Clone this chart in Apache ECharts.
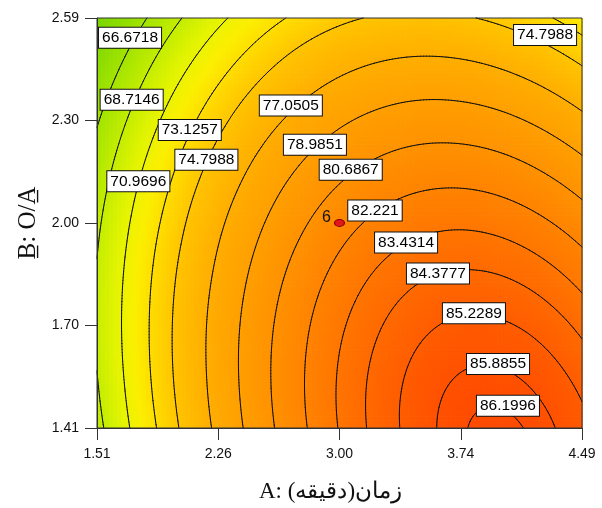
<!DOCTYPE html>
<html><head><meta charset="utf-8">
<script src="https://cdn.jsdelivr.net/npm/echarts@6/dist/echarts.min.js"></script>
<style>html,body{margin:0;padding:0;background:#fff}#c{width:602px;height:508px}</style>
</head><body><div id="c"></div>
<script>
// ---- axis ticks ----
const xTickValues = [1.51, 2.255, 3.0, 3.745, 4.49];
const xTickLabels = ['1.51', '2.26', '3.00', '3.74', '4.49'];
const yTickValues = [1.41, 1.705, 2.0, 2.295, 2.59];
const yTickLabels = ['1.41', '1.70', '2.00', '2.30', '2.59'];
const xAxisTitle = 'A: زمان(دقیقه)\u200F';
const yAxisTitle = 'B\u0332: O/A\u0332';

// ---- response grid, rows = B values, columns = A values ----
const gridA = [1.51, 1.7583, 2.0067, 2.255, 2.5033, 2.7517, 3.0, 3.2483, 3.4967, 3.745, 3.9933, 4.2417, 4.49];
const gridB = [1.41, 1.5575, 1.705, 1.8525, 2.0, 2.1475, 2.295, 2.4425, 2.59];
const rowB141 = [68.10, 71.60, 74.72, 77.48, 79.85, 81.86, 83.49, 84.75, 85.63, 86.15, 86.28, 86.05, 85.44];
const rowB156 = [68.67, 72.08, 75.12, 77.78, 80.07, 81.99, 83.53, 84.70, 85.50, 85.92, 85.97, 85.65, 84.95];
const rowB171 = [68.91, 72.23, 75.18, 77.76, 79.96, 81.79, 83.24, 84.32, 85.03, 85.37, 85.33, 84.92, 84.13];
const rowB185 = [68.81, 72.05, 74.91, 77.39, 79.51, 81.25, 82.61, 83.61, 84.23, 84.47, 84.35, 83.85, 82.97];
const rowB200 = [68.38, 71.53, 74.30, 76.70, 78.72, 80.37, 81.65, 82.56, 83.09, 83.25, 83.03, 82.44, 81.48];
const rowB215 = [67.61, 70.67, 73.35, 75.66, 77.60, 79.16, 80.35, 81.17, 81.61, 81.68, 81.38, 80.70, 79.65];
const rowB230 = [66.50, 69.47, 72.07, 74.29, 76.14, 77.61, 78.71, 79.44, 79.80, 79.78, 79.39, 78.62, 77.48];
const rowB244 = [65.06, 67.94, 70.45, 72.58, 74.34, 75.73, 76.74, 77.38, 77.65, 77.54, 77.06, 76.21, 74.98];
const rowB259 = [63.28, 66.07, 68.49, 70.54, 72.21, 73.51, 74.43, 74.98, 75.16, 74.97, 74.40, 73.46, 72.14];
const gridValues = [rowB141, rowB156, rowB171, rowB185, rowB200, rowB215, rowB230, rowB244, rowB259];

// ---- contour levels and label positions ----
const contourLevels = [66.6718, 68.7146, 70.9696, 73.1257, 74.7988, 77.0505, 78.9851, 80.6867, 82.221, 83.4314, 84.3777, 85.2289, 85.8855, 86.1996];
const contourLabelA = [1.713, 1.723, 1.764, 2.080, 2.182, 2.701, 2.849, 3.069, 3.218, 3.409, 3.605, 3.826, 3.974, 4.035, 4.263];
const contourLabelB = [2.533, 2.355, 2.120, 2.268, 2.182, 2.338, 2.225, 2.153, 2.036, 1.944, 1.855, 1.740, 1.594, 1.474, 2.541];
const contourLabelLevel = [66.6718, 68.7146, 70.9696, 73.1257, 74.7988, 77.0505, 78.9851, 80.6867, 82.221, 83.4314, 84.3777, 85.2289, 85.8855, 86.1996, 74.7988];

// ---- design point ----
const designPointA = [3.00];
const designPointB = [2.00];
const designPointLabel = ['6'];

// ---- styling ----
const SANS = "'Liberation Sans Narrow','Arial Narrow','Liberation Sans',Arial,sans-serif";
const SERIF = "'Liberation Serif','Times New Roman','DejaVu Serif',serif";
const colorStops = [[63,'#74d400'],[65,'#8cdc00'],[67,'#a8e500'],[69,'#c8ee00'],[70.5,'#e4f400'],[72,'#fbef00'],[73.5,'#ffd800'],[75,'#ffc200'],[77,'#ffae00'],[79,'#ff9f00'],[81,'#ff8f00'],[83,'#ff7b00'],[84.5,'#ff6800'],[85.5,'#ff5800'],[86.3,'#ff4a00']];
const SUB = 4;
const LSUB = 3;

function hexToRgb(h){return [parseInt(h.slice(1,3),16),parseInt(h.slice(3,5),16),parseInt(h.slice(5,7),16)];}
const stopRgb = colorStops.map(s => [s[0], hexToRgb(s[1])]);
function colorAt(v){
  if (v <= stopRgb[0][0]) { const c = stopRgb[0][1]; return 'rgb('+c[0]+','+c[1]+','+c[2]+')'; }
  for (let k = 1; k < stopRgb.length; k++) {
    if (v <= stopRgb[k][0]) {
      const t = (v - stopRgb[k-1][0]) / (stopRgb[k][0] - stopRgb[k-1][0]);
      const a = stopRgb[k-1][1], b = stopRgb[k][1];
      return 'rgb(' + Math.round(a[0]+(b[0]-a[0])*t) + ',' + Math.round(a[1]+(b[1]-a[1])*t) + ',' + Math.round(a[2]+(b[2]-a[2])*t) + ')';
    }
  }
  const c = stopRgb[stopRgb.length-1][1]; return 'rgb('+c[0]+','+c[1]+','+c[2]+')';
}
function labelFor(v, vals, labs){
  for (let k = 0; k < vals.length; k++) if (Math.abs(v - vals[k]) < 1e-6) return labs[k];
  return '';
}

// grid node access (quadratic extension past the border) and Catmull-Rom weights
function nodeVal(i, j){
  const nA = gridA.length, nB = gridB.length;
  if (i < 0) return 3*nodeVal(0,j) - 3*nodeVal(1,j) + nodeVal(2,j);
  if (i > nA-1) return 3*nodeVal(nA-1,j) - 3*nodeVal(nA-2,j) + nodeVal(nA-3,j);
  if (j < 0) return 3*nodeVal(i,0) - 3*nodeVal(i,1) + nodeVal(i,2);
  if (j > nB-1) return 3*nodeVal(i,nB-1) - 3*nodeVal(i,nB-2) + nodeVal(i,nB-3);
  return gridValues[j][i];
}
function crw(t){
  const t2 = t*t, t3 = t2*t;
  return [(-t3 + 2*t2 - t)/2, (3*t3 - 5*t2 + 2)/2, (-3*t3 + 4*t2 + t)/2, (t3 - t2)/2];
}

const cells = [];
for (let j = 0; j < gridB.length - 1; j++)
  for (let i = 0; i < gridA.length - 1; i++)
    cells.push([(gridA[i]+gridA[i+1])/2, (gridB[j]+gridB[j+1])/2, i, j]);

function cellGeom(api){
  const i = api.value(2), j = api.value(3);
  const p0 = api.coord([gridA[i], gridB[j]]);
  const p1 = api.coord([gridA[i+1], gridB[j+1]]);
  const P = [];
  for (let n = 0; n < 4; n++) { P.push([]); for (let m = 0; m < 4; m++) P[n].push(nodeVal(i-1+m, j-1+n)); }
  return {x0:p0[0], yb:p0[1], x1:p1[0], yt:p1[1], P};
}
function val(g, s, t){
  const ws = crw(s), wt = crw(t);
  let v = 0;
  for (let n = 0; n < 4; n++) {
    let r = 0;
    for (let m = 0; m < 4; m++) r += ws[m]*g.P[n][m];
    v += wt[n]*r;
  }
  return v;
}
function renderFill(params, api){
  const g = cellGeom(api);
  const w = g.x1 - g.x0, h = g.yb - g.yt;
  const nx = Math.max(1, Math.round(w/SUB)), ny = Math.max(1, Math.round(h/SUB));
  const children = [];
  for (let q = 0; q < ny; q++) for (let p = 0; p < nx; p++) {
    const v = val(g, (p+0.5)/nx, (q+0.5)/ny);
    children.push({type:'rect', silent:true,
      shape:{x:g.x0 + p*w/nx, y:g.yb - (q+1)*h/ny, width:w/nx + 0.7, height:h/ny + 0.7},
      style:{fill:colorAt(v)}});
  }
  return {type:'group', children};
}
function renderLines(params, api){
  const g = cellGeom(api);
  const w = g.x1 - g.x0, h = g.yb - g.yt;
  const nx = Math.max(1, Math.round(w/LSUB)), ny = Math.max(1, Math.round(h/LSUB));
  const cv = [];
  for (let q = 0; q <= ny; q++) { cv.push([]); for (let p = 0; p <= nx; p++) cv[q].push(val(g, p/nx, q/ny)); }
  let d = '';
  const f = n => n.toFixed(2);
  for (const L of contourLevels) {
    for (let q = 0; q < ny; q++) for (let p = 0; p < nx; p++) {
      const c00 = cv[q][p]-L, c10 = cv[q][p+1]-L, c01 = cv[q+1][p]-L, c11 = cv[q+1][p+1]-L;
      const X0 = g.x0 + p*w/nx, X1 = g.x0 + (p+1)*w/nx, Y0 = g.yb - q*h/ny, Y1 = g.yb - (q+1)*h/ny;
      const pts = [];
      if ((c00>0) !== (c10>0)) { const t = c00/(c00-c10); pts.push([X0+t*(X1-X0), Y0]); }
      if ((c10>0) !== (c11>0)) { const t = c10/(c10-c11); pts.push([X1, Y0+t*(Y1-Y0)]); }
      if ((c01>0) !== (c11>0)) { const t = c01/(c01-c11); pts.push([X0+t*(X1-X0), Y1]); }
      if ((c00>0) !== (c01>0)) { const t = c00/(c00-c01); pts.push([X0, Y0+t*(Y1-Y0)]); }
      if (pts.length >= 2) d += 'M'+f(pts[0][0])+' '+f(pts[0][1])+'L'+f(pts[1][0])+' '+f(pts[1][1]);
      if (pts.length === 4) d += 'M'+f(pts[2][0])+' '+f(pts[2][1])+'L'+f(pts[3][0])+' '+f(pts[3][1]);
    }
  }
  if (!d) return {type:'group', children:[]};
  return {type:'path', silent:true, shape:{pathData:d},
          style:{stroke:'#111', lineWidth:1, fill:'none', lineCap:'round', lineJoin:'round'}};
}

const chart = echarts.init(document.getElementById('c'), null, {renderer:'canvas'});
chart.setOption({
  animation:false,
  backgroundColor:'#ffffff',
  grid:{left:97, top:18, width:485, height:411, show:true, borderColor:'#333', borderWidth:1, backgroundColor:'transparent', z:10},
  xAxis:{type:'value', min:1.51, max:4.49, z:10,
    axisLine:{show:true, lineStyle:{color:'#333', width:1}},
    axisTick:{show:true, inside:false, length:12, customValues:xTickValues, lineStyle:{color:'#333'}},
    axisLabel:{customValues:xTickValues, formatter:v => labelFor(v, xTickValues, xTickLabels), margin:19, fontSize:14, fontFamily:SANS, color:'#111'},
    splitLine:{show:false},
    name:xAxisTitle, nameLocation:'middle', nameGap:52,
    nameTextStyle:{fontFamily:SERIF, fontSize:23, color:'#111', padding:[0,18,0,0]}},
  yAxis:{type:'value', min:1.41, max:2.59, z:10,
    axisLine:{show:true, lineStyle:{color:'#333', width:1}},
    axisTick:{show:true, inside:false, length:12, customValues:yTickValues, lineStyle:{color:'#333'}},
    axisLabel:{customValues:yTickValues, formatter:v => labelFor(v, yTickValues, yTickLabels), margin:18, fontSize:14, fontFamily:SANS, color:'#111'},
    splitLine:{show:false},
    name:yAxisTitle, nameLocation:'middle', nameGap:56,
    nameTextStyle:{fontFamily:SERIF, fontSize:25, color:'#111'}},
  series:[
    {type:'custom', coordinateSystem:'cartesian2d', z:1, silent:true, renderItem:renderFill,
     encode:{x:0, y:1}, data:cells},
    {type:'custom', coordinateSystem:'cartesian2d', z:3, silent:true, renderItem:renderLines,
     encode:{x:0, y:1}, data:cells},
    {type:'scatter', z:20, silent:true, symbolSize:1, itemStyle:{color:'rgba(0,0,0,0)', opacity:1},
     data:contourLabelA.map((a,k) => [a, contourLabelB[k], contourLabelLevel[k]]),
     label:{show:true, position:'inside', formatter:p => String(p.value[2]),
       color:'#000', fontFamily:SANS, fontSize:15.5, lineHeight:17, opacity:1,
       backgroundColor:'#ffffff', borderColor:'#111', borderWidth:1, padding:[2,3,1,3]}},
    {type:'scatter', z:21, silent:true, symbol:'circle', symbolSize:[10,7],
     itemStyle:{color:'#e3161b', borderColor:'#8a0000', borderWidth:1, opacity:1},
     data:designPointA.map((a,k) => [a, designPointB[k], designPointLabel[k]]),
     label:{show:true, position:'left', distance:3, offset:[0,-5], formatter:p => p.value[2],
       color:'#111', fontFamily:SANS, fontSize:16, opacity:1}}
  ]
});
</script></body></html>
